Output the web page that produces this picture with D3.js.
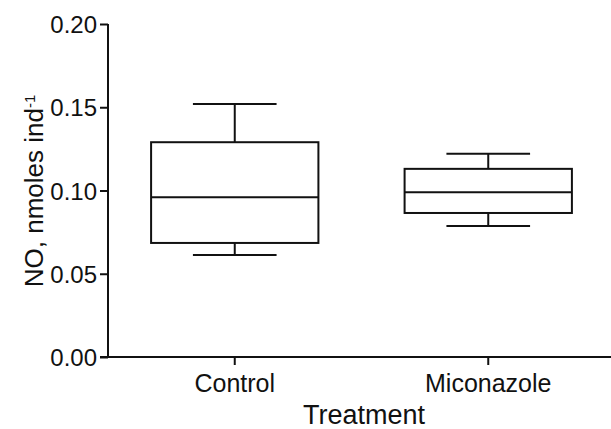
<!DOCTYPE html>
<html>
<head>
<meta charset="utf-8">
<script src="https://cdn.jsdelivr.net/npm/d3@7"></script>
<style>
  body { margin: 0; background: #fff; }
  text { font-family: "Liberation Sans", Arial, sans-serif; fill: #111; }
</style>
</head>
<body>
<div id="chart"></div>
<script>
// box plot values
var groups = ['Control', 'Miconazole'];
var whiskerLow = [0.0613, 0.0787];
var q1 = [0.0685, 0.0865];
var medians = [0.096, 0.099];
var q3 = [0.129, 0.113];
var whiskerHigh = [0.152, 0.122];
var yTicks = [0, 0.05, 0.10, 0.15, 0.20];

var W = 611, H = 429;
var margin = { left: 108, right: 0, top: 24, bottom: 72 };

var svg = d3.select('#chart')
    .append('svg')
    .attr('width', W)
    .attr('height', H);

var yScale = d3.scaleLinear()
    .domain([0, 0.2])
    .range([H - margin.bottom, margin.top]);

var xScale = d3.scaleBand()
    .domain(groups)
    .range([margin.left, 615])
    .padding(0);

var boxW = xScale.bandwidth() * 0.66;
var capW = boxW * 0.5;
var ink = '#111';

// y axis
var yAxis = svg.append('g')
    .attr('transform', 'translate(' + margin.left + ',0)')
    .call(d3.axisLeft(yScale).tickValues(yTicks).tickSize(8).tickPadding(3)
        .tickFormat(d3.format('.2f')));
yAxis.select('.domain').attr('stroke', ink).attr('stroke-width', 2)
    .attr('d', 'M0,' + yScale(0.2) + 'V' + (yScale(0) + 1));
yAxis.selectAll('.tick line').attr('stroke', ink).attr('stroke-width', 2);
yAxis.selectAll('.tick text').style('font-size', '24px').attr('dy', '0.36em')
    .attr('fill', ink);

// x axis
var xAxis = svg.append('g')
    .attr('transform', 'translate(0,' + yScale(0) + ')')
    .call(d3.axisBottom(xScale).tickSize(8).tickPadding(9));
xAxis.select('.domain').attr('stroke', ink).attr('stroke-width', 2)
    .attr('d', 'M100,0H' + W);
xAxis.selectAll('.tick line').attr('stroke', ink).attr('stroke-width', 2);
xAxis.selectAll('.tick text').style('font-size', '25px').attr('fill', ink);

// boxes
var data = groups.map(function(g, i) {
    return { g: g, lo: whiskerLow[i], q1: q1[i], med: medians[i], q3: q3[i], hi: whiskerHigh[i] };
});

var boxes = svg.selectAll('.box')
    .data(data)
    .enter()
    .append('g')
    .attr('class', 'box')
    .attr('transform', function(d) { return 'translate(' + (xScale(d.g) + xScale.bandwidth() / 2) + ',0)'; });

boxes.append('line')
    .attr('x1', 0).attr('x2', 0)
    .attr('y1', function(d) { return yScale(d.hi); })
    .attr('y2', function(d) { return yScale(d.q3); });
boxes.append('line')
    .attr('x1', 0).attr('x2', 0)
    .attr('y1', function(d) { return yScale(d.q1); })
    .attr('y2', function(d) { return yScale(d.lo); });
boxes.append('line')
    .attr('x1', -capW / 2).attr('x2', capW / 2)
    .attr('y1', function(d) { return yScale(d.hi); })
    .attr('y2', function(d) { return yScale(d.hi); });
boxes.append('line')
    .attr('x1', -capW / 2).attr('x2', capW / 2)
    .attr('y1', function(d) { return yScale(d.lo); })
    .attr('y2', function(d) { return yScale(d.lo); });
boxes.append('rect')
    .attr('x', -boxW / 2)
    .attr('width', boxW)
    .attr('y', function(d) { return yScale(d.q3); })
    .attr('height', function(d) { return yScale(d.q1) - yScale(d.q3); })
    .attr('fill', 'none');
boxes.append('line')
    .attr('x1', -boxW / 2).attr('x2', boxW / 2)
    .attr('y1', function(d) { return yScale(d.med); })
    .attr('y2', function(d) { return yScale(d.med); });
boxes.selectAll('line, rect')
    .attr('stroke', ink)
    .attr('stroke-width', 2);

// axis titles
svg.append('text')
    .attr('x', 364)
    .attr('y', 424)
    .attr('text-anchor', 'middle')
    .style('font-size', '27px')
    .text('Treatment');

var yLabel = svg.append('text')
    .attr('transform', 'translate(43,' + 191 + ') rotate(-90)')
    .attr('text-anchor', 'middle')
    .style('font-size', '26px');
yLabel.append('tspan').text('NO, nmoles ind');
yLabel.append('tspan').text('-1')
    .attr('dy', '-0.55em')
    .style('font-size', '15px');
</script>
</body>
</html>
